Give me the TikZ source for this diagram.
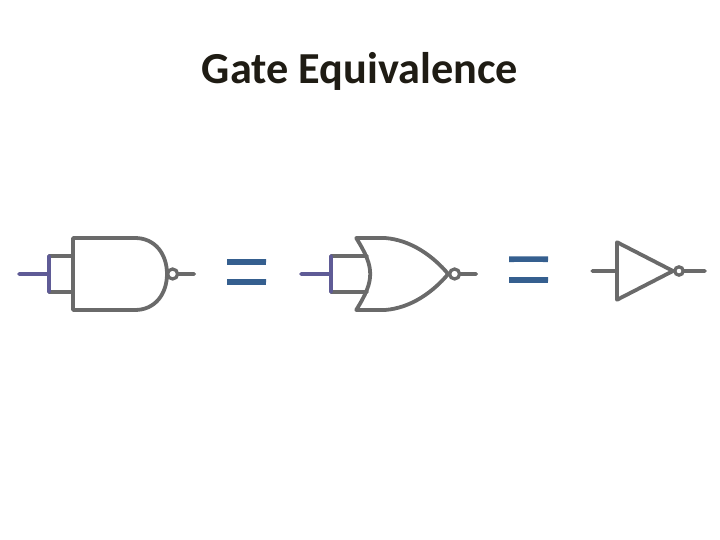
\documentclass[tikz,border=0pt]{standalone}
\usepackage{fontspec}
\setmainfont{Carlito}
\definecolor{gategray}{HTML}{6A6A6A}
\definecolor{inputpurple}{HTML}{5F5B96}
\definecolor{equalblue}{HTML}{355F8F}
\definecolor{titleblack}{HTML}{1F1C14}
\tikzset{
  gate/.style={draw=gategray, line width=2.7pt, line join=round, line cap=round},
  tied/.style={draw=inputpurple, line width=2.7pt, line join=round, line cap=round},
  bubble/.style={draw=gategray, line width=2.3pt, fill=white},
  equalbar/.style={draw=equalblue, line width=4pt}
}
\begin{document}
\begin{tikzpicture}
\useasboundingbox (0,0) rectangle (18,13.5);

% Title
\node[anchor=base, font=\fontsize{31.5}{36}\selectfont\bfseries, text=titleblack] (title)
    at (9,11.42) {Gate Equivalence};

% NAND with tied inputs
\begin{scope}[xshift=1.225cm, yshift=6.65cm]
    \draw[gate] (0.6,0.45) -- (0.3,0.451) -- (0,0.45);
    \draw[gate] (0.6,-0.45) -- (0.3,-0.451) -- (0,-0.45);
    \draw[tied] (-0.75,0) -- (-0.35,0.001) -- (0,0);
    \draw[tied] (0,0.45) -- (0.001,0) -- (0,-0.45);
    \draw[gate] (0.6,0.9) -- (2.15,0.9) .. controls (2.65,0.9) and (2.95,0.5) .. (2.95,0)
        .. controls (2.95,-0.5) and (2.65,-0.9) .. (2.15,-0.9) -- (0.6,-0.9) -- cycle;
    \draw[gate] (3.2,0) -- (3.4,0.001) -- (3.63,0);
    \draw[bubble] (3.09,0) circle (0.125);
\end{scope}

% first equals sign
\draw[equalbar] (5.68,6.95) -- (6.2,6.951) -- (6.65,6.95);
\draw[equalbar] (5.68,6.45) -- (6.2,6.451) -- (6.65,6.45);

% NOR with tied inputs
\begin{scope}[xshift=8.275cm, yshift=6.65cm]
    \draw[gate] (0.9,0.45) -- (0.4,0.451) -- (0,0.45);
    \draw[gate] (0.9,-0.45) -- (0.4,-0.451) -- (0,-0.45);
    \draw[tied] (-0.75,0) -- (-0.35,0.001) -- (0,0);
    \draw[tied] (0,0.45) -- (0.001,0) -- (0,-0.45);
    \draw[gate] (0.63,0.9) -- (1.35,0.9) .. controls (2,0.85) and (2.55,0.45) .. (2.93,0)
        .. controls (2.55,-0.45) and (2,-0.85) .. (1.35,-0.9) -- (0.63,-0.9)
        .. controls (0.88,-0.5) and (0.98,-0.25) .. (0.98,0)
        .. controls (0.98,0.25) and (0.88,0.5) .. (0.63,0.9) -- cycle;
    \draw[gate] (3.2,0) -- (3.4,0.001) -- (3.63,0);
    \draw[bubble] (3.09,0) circle (0.125);
\end{scope}

% second equals sign
\draw[equalbar] (12.73,7.02) -- (13.2,7.021) -- (13.7,7.02);
\draw[equalbar] (12.73,6.5) -- (13.2,6.501) -- (13.7,6.5);

% Inverter
\begin{scope}[xshift=15.425cm, yshift=6.725cm]
    \draw[gate] (-0.62,0) -- (-0.3,0.001) -- (0,0);
    \draw[gate] (0,0.72) -- (1.4,0) -- (0,-0.72) -- cycle;
    \draw[gate] (1.65,0) -- (1.9,0.001) -- (2.2,0);
    \draw[bubble] (1.55,0) circle (0.105);
\end{scope}

\end{tikzpicture}
\end{document}
